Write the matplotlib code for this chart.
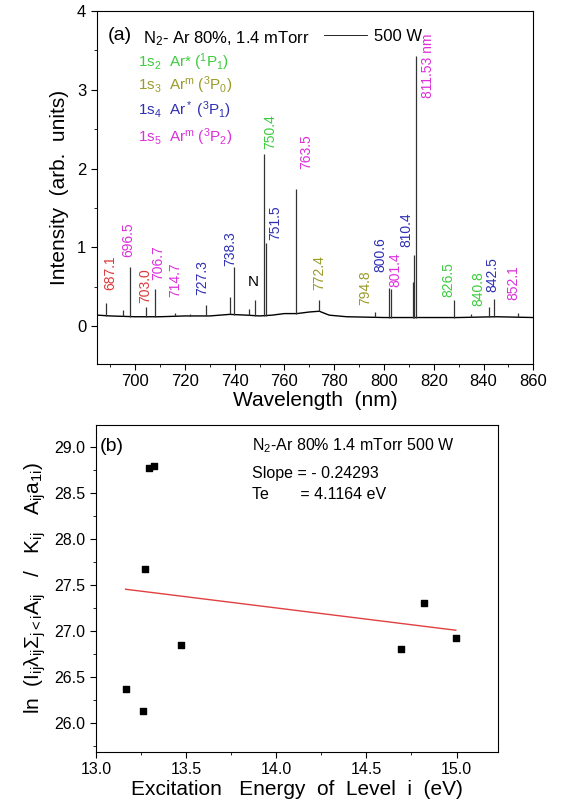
import numpy as np
import matplotlib
matplotlib.use('Agg')
import matplotlib.pyplot as plt
from matplotlib.ticker import MultipleLocator, FormatStrFormatter

plt.rcParams['font.family'] = ['Liberation Sans', 'DejaVu Sans']
plt.rcParams['mathtext.fontset'] = 'custom'
plt.rcParams['mathtext.rm'] = 'Liberation Sans'
plt.rcParams['mathtext.it'] = 'Liberation Sans:italic'
plt.rcParams['mathtext.default'] = 'regular'

# (a) emission spectrum
base_wl = [685, 690, 700, 710, 720, 730, 738, 745, 750, 755, 760, 765, 770, 774, 778, 785, 800, 815, 830, 845, 860]
base_int = [0.14, 0.13, 0.12, 0.12, 0.13, 0.13, 0.15, 0.14, 0.13, 0.14, 0.16, 0.16, 0.18, 0.19, 0.14, 0.12, 0.11, 0.11, 0.11, 0.12, 0.11]

peak_wl = [688.4, 695.0, 697.9, 704.4, 708.0, 716.0, 722.0, 728.7, 738.2, 739.8, 745.6, 748.1,
           751.7, 752.8, 764.8, 773.8, 796.4, 802.0, 802.8, 811.6, 811.9, 812.8, 828.0, 835.0,
           842.3, 844.1, 853.7]
peak_int = [0.30, 0.20, 0.75, 0.24, 0.47, 0.17, 0.15, 0.27, 0.37, 0.75, 0.22, 0.33,
            2.19, 1.05, 1.74, 0.33, 0.18, 0.48, 0.47, 0.56, 0.90, 3.43, 0.33, 0.15,
            0.24, 0.34, 0.17]

lab_text = ['687.1', '696.5', '703.0', '706.7', '714.7', '727.3', '738.3', 'N', '750.4', '751.5',
            '763.5', '772.4', '794.8', '800.6', '801.4', '810.4', '811.53 nm', '826.5', '840.8',
            '842.5', '852.1']
lab_x = [690.0, 697.1, 704.0, 709.4, 716.1, 726.8, 738.2, 747.5, 754.2, 756.2,
         768.7, 773.9, 792.4, 798.4, 804.5, 808.9, 817.7, 825.8, 837.8, 843.7, 851.9]
lab_y = [0.46, 0.88, 0.29, 0.58, 0.37, 0.39, 0.77, 0.56, 2.25, 1.09,
         2.00, 0.46, 0.27, 0.69, 0.50, 1.00, 2.89, 0.37, 0.25, 0.43, 0.33]
lab_kind = ['r', 'm', 'r', 'm', 'm', 'b', 'b', 'k', 'g', 'b',
            'm', 'o', 'o', 'b', 'm', 'b', 'm', 'g', 'g', 'b', 'm']

colors = {'g': '#3dcc3d', 'o': '#9a9a2a', 'b': '#2f2fb5', 'm': '#dd2fdd', 'r': '#dd3838', 'k': 'black'}

states = [r'1s$_2$  Ar* ($^1$P$_1$)', r'1s$_3$  Ar$^m$ ($^3$P$_0$)',
          r'1s$_4$  Ar$^*$ ($^3$P$_1$)', r'1s$_5$  Ar$^m$ ($^3$P$_2$)']
state_kind = ['g', 'o', 'b', 'm']
state_y = [0.856, 0.790, 0.720, 0.643]

# (b) Boltzmann plot
energy = [13.164, 13.262, 13.273, 13.294, 13.321, 13.469, 14.690, 14.817, 14.996]
ln_val = [26.373, 26.134, 27.678, 28.775, 28.793, 26.851, 26.804, 27.312, 26.924]
slope = -0.24293
intercept = 30.655

fig = plt.figure(figsize=(5.63, 8.10), dpi=100)

ax1 = fig.add_axes([0.1718, 0.5506, 0.7755, 0.4358])
ax1.plot(base_wl, base_int, color='black', lw=1.0, label='500 W')
ax1.vlines(peak_wl, np.interp(peak_wl, base_wl, base_int), peak_int, color='#333333', lw=0.9)
for t, x, y, k in zip(lab_text, lab_x, lab_y, lab_kind):
    if t == 'N':
        ax1.text(x, y, t, color='black', fontsize=11, ha='center', va='center')
    else:
        ax1.text(x, y, t, color=colors[k], fontsize=10, rotation=90, ha='center', va='bottom')
ax1.set_xlim(684.6, 860)
ax1.set_ylim(-0.48, 4.0)
ax1.xaxis.set_major_locator(MultipleLocator(20))
ax1.xaxis.set_minor_locator(MultipleLocator(10))
ax1.yaxis.set_major_locator(MultipleLocator(1))
ax1.yaxis.set_minor_locator(MultipleLocator(0.5))
ax1.tick_params(which='both', direction='out', labelsize=12)
ax1.tick_params(which='major', length=4)
ax1.tick_params(which='minor', length=2.5)
ax1.set_xlabel('Wavelength  (nm)', fontsize=15, labelpad=1)
ax1.set_ylabel('Intensity  (arb.  units)', fontsize=15, labelpad=6)
ax1.text(0.026, 0.932, '(a)', transform=ax1.transAxes, fontsize=14, va='center')
ax1.text(0.106, 0.922, r'N$_2$- Ar 80%, 1.4 mTorr', transform=ax1.transAxes, fontsize=12, va='center')
leg = ax1.legend(loc='center left', bbox_to_anchor=(0.52, 0.928), frameon=False, fontsize=12,
                 handlelength=2.6, handletextpad=0.4, borderpad=0, borderaxespad=0)
leg.get_lines()[0].set_linewidth(0.6)
for s, k, y in zip(states, state_kind, state_y):
    ax1.text(0.095, y, s, transform=ax1.transAxes, color=colors[k], fontsize=11, va='center')

ax2 = fig.add_axes([0.1705, 0.0716, 0.714, 0.4037])
ax2.scatter(energy, ln_val, marker='s', s=22, color='black', zorder=3)
fx = np.array([min(energy), max(energy)])
ax2.plot(fx, slope * fx + intercept, color='#e04040', lw=1.0)
ax2.set_xlim(13.0, 15.23)
ax2.set_ylim(25.69, 29.24)
ax2.xaxis.set_major_locator(MultipleLocator(0.5))
ax2.xaxis.set_minor_locator(MultipleLocator(0.25))
ax2.yaxis.set_major_locator(MultipleLocator(0.5))
ax2.yaxis.set_minor_locator(MultipleLocator(0.25))
ax2.xaxis.set_major_formatter(FormatStrFormatter('%.1f'))
ax2.yaxis.set_major_formatter(FormatStrFormatter('%.1f'))
ax2.tick_params(which='both', direction='out', labelsize=11.5)
ax2.tick_params(which='major', length=4)
ax2.tick_params(which='minor', length=2.5)
ax2.set_xlabel('Excitation   Energy  of  Level  i  (eV)', fontsize=15, labelpad=2)
ax2.set_ylabel(r'ln  (I$_{ij}$$\lambda_{ij}$$\Sigma_{j<i}$A$_{ij}$   /   K$_{ij}$   A$_{ij}$a$_{1i}$)',
               fontsize=15, labelpad=5)
ax2.text(0.01, 0.933, '(b)', transform=ax2.transAxes, fontsize=14, va='center')
ax2.text(0.388, 0.936, r'N$_2$-Ar 80% 1.4 mTorr 500 W', transform=ax2.transAxes, fontsize=11.5, va='center')
ax2.text(0.388, 0.853, 'Slope = - 0.24293', transform=ax2.transAxes, fontsize=11.5, va='center')
ax2.text(0.388, 0.786, 'Te       = 4.1164 eV', transform=ax2.transAxes, fontsize=11.5, va='center')

fig.savefig('out.png', dpi=100)
